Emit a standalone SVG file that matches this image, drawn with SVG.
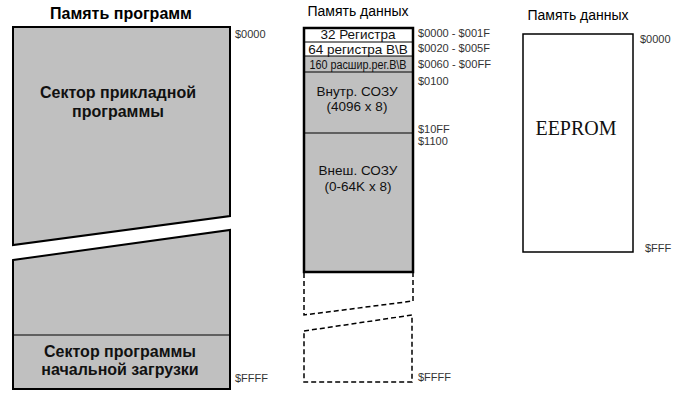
<svg xmlns="http://www.w3.org/2000/svg" width="687" height="400" viewBox="0 0 687 400">
<style>
.title{font-family:"Liberation Sans",Arial,sans-serif;fill:#000}
.tb{font-family:"Liberation Sans",Arial,sans-serif;font-weight:bold;font-size:16px;fill:#111;text-anchor:middle}
.tn{font-family:"Liberation Sans",Arial,sans-serif;font-size:13.5px;fill:#111;text-anchor:middle}
.addr{font-family:"Liberation Sans",Arial,sans-serif;font-size:11px;fill:#333}
.rng{font-size:10.5px}
.gray{fill:#c0c0c0;stroke:#000;stroke-width:2}
.sep{stroke:#000;stroke-width:1;fill:none}
.dash{fill:none;stroke:#000;stroke-width:1.5;stroke-dasharray:5,3}
</style>
<rect width="687" height="400" fill="#fff"/>

<g id="program-memory">
  <text class="title" x="121" y="19" font-size="16" font-weight="bold" text-anchor="middle">Память программ</text>
  <polygon class="gray" points="13,27 230,27 230,216 13,245"/>
  <polygon class="gray" points="13,260 230,230 230,389 13,389"/>
  <line class="sep" x1="13" y1="335" x2="230" y2="335" stroke-width="2"/>
  <text class="tb" x="118" y="98">Сектор прикладной</text>
  <text class="tb" x="118" y="117">программы</text>
  <text class="tb" x="120" y="357">Сектор программы</text>
  <text class="tb" x="120" y="375">начальной загрузки</text>
  <text class="addr" x="235" y="38">$0000</text>
  <text class="addr" x="235" y="382" font-size="12">$FFFF</text>
</g>

<g id="data-memory">
  <text class="title" x="358" y="16" font-size="14" text-anchor="middle">Память данных</text>
  <rect x="304" y="28" width="109" height="28" fill="#fff"/>
  <rect x="304" y="56" width="109" height="216" fill="#c0c0c0"/>
  <line class="sep" x1="304" y1="42" x2="413" y2="42"/>
  <line class="sep" x1="304" y1="56" x2="413" y2="56"/>
  <line class="sep" x1="304" y1="72" x2="413" y2="72"/>
  <line class="sep" x1="304" y1="133" x2="413" y2="133"/>
  <rect x="304" y="28" width="109" height="244" fill="none" stroke="#000" stroke-width="2.5"/>
  <text class="tn" x="358" y="39">32 Регистра</text>
  <text class="tn" x="358" y="54">64 регистра B\B</text>
  <text class="tn" x="0" y="0" font-size="10" transform="translate(358,68.5) scale(0.8,1)">160 расшир.рег.B\B</text>
  <text class="tn" x="357" y="96">Внутр. СОЗУ</text>
  <text class="tn" x="357" y="111">(4096 x 8)</text>
  <text class="tn" x="358" y="175">Внеш. СОЗУ</text>
  <text class="tn" x="358" y="191">(0-64K x 8)</text>
  <text class="addr rng" x="418" y="37" textLength="72" lengthAdjust="spacingAndGlyphs">$0000 - $001F</text>
  <text class="addr rng" x="418" y="51.5" textLength="72" lengthAdjust="spacingAndGlyphs">$0020 - $005F</text>
  <text class="addr rng" x="418" y="68" textLength="73" lengthAdjust="spacingAndGlyphs">$0060 - $00FF</text>
  <text class="addr" x="418" y="84.5">$0100</text>
  <text class="addr" x="418" y="132.5">$10FF</text>
  <text class="addr" x="418" y="144.5">$1100</text>
  <text class="addr" x="418" y="381" font-size="12">$FFFF</text>
</g>

<g id="data-memory-ext">
  <polyline class="dash" points="304,273 304,315 413,301 413,273"/>
  <polygon class="dash" points="304,331 412,315 412,382 304,382"/>
</g>

<g id="eeprom">
  <text class="title" x="578" y="20" font-size="14" text-anchor="middle">Память данных</text>
  <rect x="523" y="34" width="110" height="218" fill="#fff" stroke="#000" stroke-width="1.5"/>
  <text x="576" y="135" font-family="'Liberation Serif','Times New Roman',serif" font-size="20" text-anchor="middle" fill="#111">EEPROM</text>
  <text class="addr" x="640" y="43">$0000</text>
  <text class="addr" x="645" y="252">$FFF</text>
</g>

<g id="connectors"></g>
</svg>
